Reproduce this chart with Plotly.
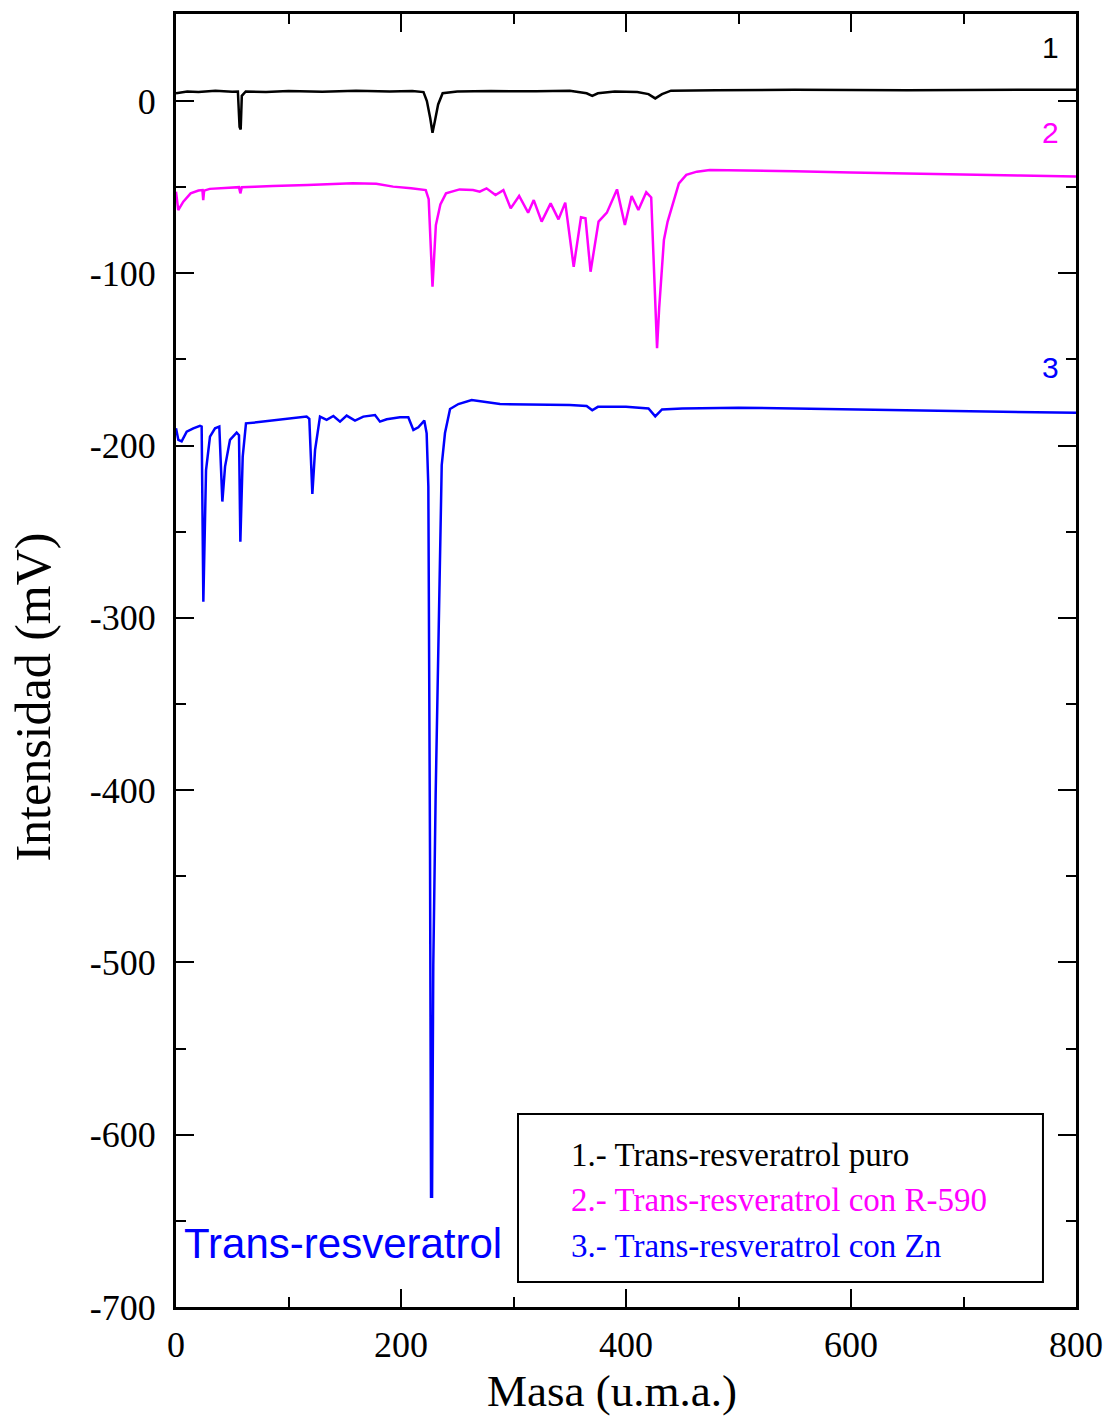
import plotly.graph_objects as go

# Mass spectra (intensity in mV vs mass in u.m.a.)
masa_puro = [0, 10, 20, 35, 50, 55, 56.5, 57.5, 58.5, 62, 80, 100, 130, 160, 190, 210,
             220, 223, 226, 228, 230, 233, 237, 250, 280, 320, 350, 365, 370, 375, 390,
             410, 420, 426, 432, 440, 480, 550, 650, 800]
int_puro = [4.5, 5.5, 5.2, 6.0, 5.3, 5.5, -15, -16.5, 3, 5.5, 5.2, 5.8, 5.4, 5.9, 5.5, 5.8,
            5.2, 0, -10, -18.4, -12, -2, 4.5, 5.5, 5.8, 5.6, 6, 4.5, 3, 4.5, 5.5,
            5.2, 4, 1.5, 4, 6, 6.2, 6.5, 6.3, 6.6]

masa_r590 = [0, 2, 6.5, 13, 20, 23.5, 24.2, 25, 30, 40, 56, 57.2, 58.5, 70, 86, 117, 140,
             157, 178, 193, 209, 222, 224.6, 228, 231, 235, 240, 252, 264, 270, 276, 284,
             291, 297.5, 305, 313, 318, 325, 333, 340, 346, 353.5, 360, 364, 368.5, 375.6,
             383, 392, 399, 405, 411, 418, 422.4, 424, 427.6, 429.5, 433.7, 437, 440, 447,
             453.6, 463, 474.5, 500, 550, 600, 650, 700, 750, 800]
int_r590 = [-52.6, -63.3, -58.4, -53.6, -52, -51.7, -57.5, -52, -51, -50.5, -50, -53.6, -50,
            -49.8, -49.3, -48.8, -48.3, -47.8, -48.1, -49.7, -50.7, -51.7, -57, -107.8, -72,
            -60, -53.6, -51.3, -51.7, -52.6, -50.7, -54.6, -51.7, -62.3, -55.1, -64.8, -57.5,
            -70, -59.4, -68.7, -59, -96.2, -67.5, -68.1, -99.1, -70, -64.8, -51.3, -72, -55.1,
            -63.3, -53, -56, -80, -143.5, -120, -80.7, -70, -63, -47.8, -42.9, -41, -40,
            -40.2, -40.8, -41.5, -42.2, -42.8, -43.3, -43.8]

masa_zn = [0, 2.1, 5, 9.5, 15.4, 21.3, 22.8, 24.3, 26.7, 30.2, 34.7, 38.5, 41.2, 43.6, 48,
           53.9, 56, 57.2, 59.3, 62.2, 71.7, 92.4, 116.1, 118.5, 121.2, 123.6, 128, 133.9,
           139.9, 145.8, 151.7, 159.1, 166.5, 176.9, 181.3, 187.3, 199.1, 206.5, 211, 215.4,
           220.7, 222.8, 224.3, 225.8, 226.7, 227.6, 228.7, 230.8, 233.2, 236.2, 239.1,
           243.6, 251, 262.8, 288, 320, 350, 365, 370, 375, 400, 420, 426, 432, 450, 500,
           600, 700, 800]
int_zn = [-190, -196.7, -197.6, -191.9, -190, -188.6, -189, -290.6, -214.2, -194.8, -190,
          -189, -232.5, -212.2, -196.7, -192.5, -194, -255.8, -206.4, -187.1, -186.5, -185.1,
          -183.2, -184.5, -228.1, -202.6, -183.2, -185.1, -182.8, -186.1, -182.6, -185.5,
          -183.2, -182.3, -186.1, -184.7, -183.6, -183.6, -190.9, -189.4, -185.5, -192.9,
          -223.7, -439.8, -636, -636, -501, -402.8, -316, -211.3, -192.7, -178.8, -175.9,
          -173.6, -175.9, -176, -176.5, -177, -179.5, -177.5, -177.5, -178.5, -183, -179,
          -178.5, -178, -179, -180, -181]

x_ticks = [0, 200, 400, 600, 800]
x_tick_labels = ["0", "200", "400", "600", "800"]
y_ticks = [0, -100, -200, -300, -400, -500, -600, -700]
y_tick_labels = ["0", "-100", "-200", "-300", "-400", "-500", "-600", "-700"]

series_names = ["1.- Trans-resveratrol puro",
                "2.- Trans-resveratrol con R-590",
                "3.- Trans-resveratrol con Zn"]
colors = ["#000000", "#FF00FF", "#0000FF"]

fig = go.Figure()
for xs, ys, name, c in zip([masa_puro, masa_r590, masa_zn],
                           [int_puro, int_r590, int_zn], series_names, colors):
    fig.add_trace(go.Scatter(x=xs, y=ys, mode="lines", name=name,
                             line=dict(color=c, width=2.5), showlegend=False))

serif = "Liberation Serif, Times New Roman, serif"
sans = "Liberation Sans, Arial, sans-serif"

axis_common = dict(showline=True, linewidth=3, linecolor="black", mirror="allticks",
                   ticks="inside", ticklen=18, tickwidth=2, tickcolor="black",
                   showgrid=False, zeroline=False, automargin=False,
                   tickfont=dict(family=serif, size=36, color="black"))

fig.update_xaxes(range=[0, 800], tickvals=x_ticks, ticktext=x_tick_labels,
                 minor=dict(ticks="inside", ticklen=10, tickwidth=2, tickcolor="black",
                            dtick=100, tick0=0),
                 ticklabelstandoff=4, **axis_common)
fig.update_yaxes(range=[-700, 50.5], tickvals=y_ticks, ticktext=y_tick_labels,
                 minor=dict(ticks="inside", ticklen=10, tickwidth=2, tickcolor="black",
                            dtick=50, tick0=0),
                 ticklabelstandoff=10, **axis_common)

annotations = [
    dict(text="Intensidad (mV)", xref="paper", yref="paper", x=-0.159, y=0.472,
         xanchor="center", yanchor="middle",
         textangle=-90, showarrow=False, font=dict(family=serif, size=50, color="black")),
    dict(text="Masa (u.m.a.)", xref="paper", yref="paper", x=0.484, y=-0.0650,
         xanchor="center", yanchor="middle",
         showarrow=False, font=dict(family=serif, size=45, color="black")),
    dict(text="1", x=777, y=30.8, showarrow=False, font=dict(family=sans, size=30, color=colors[0])),
    dict(text="2", x=777, y=-18, showarrow=False, font=dict(family=sans, size=30, color=colors[1])),
    dict(text="3", x=777, y=-154.4, showarrow=False, font=dict(family=sans, size=30, color=colors[2])),
    dict(text="Trans-resveratrol", x=148.4, y=-663.4, showarrow=False,
         font=dict(family=sans, size=42, color="#0000FF")),
]
for name, c, yp in zip(series_names, colors, [0.1176, 0.0828, 0.0472]):
    annotations.append(dict(text=name, xref="paper", yref="paper", x=0.437, y=yp,
                            xanchor="left", yanchor="middle", showarrow=False,
                            font=dict(family=serif, size=33, color=c)))

fig.add_shape(type="rect", xref="paper", yref="paper", x0=0.38, x1=0.9633,
              y0=0.0193, y1=0.1493, line=dict(color="black", width=2), fillcolor="white",
              layer="below")

fig.update_layout(width=1108, height=1417, plot_bgcolor="white", paper_bgcolor="white",
                  margin=dict(l=176, r=32, t=14, b=110), annotations=annotations)

fig.write_html("out.html")
